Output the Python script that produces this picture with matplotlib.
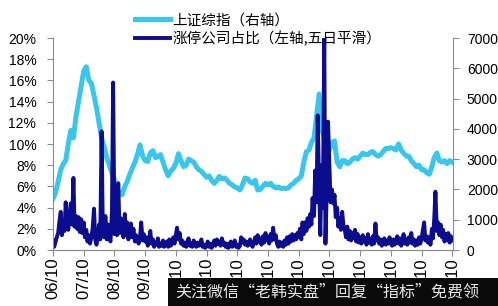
import numpy as np
import pandas as pd
import matplotlib
matplotlib.use("Agg")
import matplotlib.pyplot as plt
from matplotlib.patches import Rectangle

plt.rcParams['font.family'] = ['Liberation Sans', 'Noto Sans CJK SC', 'DejaVu Sans']

# 上证综指, monthly from 2006-10 (right axis)
sse = [1700, 1900, 2250, 2650, 2850, 2950, 3500, 3950, 3700, 4400, 4900, 5400,
       5900, 6050, 5600, 5500, 5100, 4700, 4200, 3700, 3400, 3050, 2800, 2550,
       2300, 2050, 1850, 1830, 2100, 2250, 2500, 2700, 2900, 3150, 3470, 3100,
       2950, 2920, 3200, 3280, 3050, 3080, 3150, 2900, 2650, 2450, 2600, 2700,
       2850, 3180, 2950, 2750, 2800, 3000, 2950, 2900, 2750, 2650, 2600, 2500,
       2400, 2450, 2300, 2200, 2300, 2430, 2350, 2380, 2300, 2200, 2150, 2080,
       2050, 1980, 2150, 2380, 2350, 2250, 2200, 2300, 1980, 2000, 2100, 2200,
       2150, 2200, 2100, 2050, 2080, 2030, 2040, 2030, 2050, 2150, 2200, 2300,
       2350, 2450, 2900, 3250, 3300, 3550, 3700, 4400, 5150, 4000, 3700, 3100,
       3300, 3550, 3600, 2900, 2750, 2950, 2950, 2850, 2900, 3000, 3050, 3000,
       3100, 3200, 3150, 3150, 3230, 3250, 3150, 3100, 3150, 3250, 3350, 3350,
       3380, 3350, 3300, 3500, 3300, 3200, 3100, 3100, 2950, 2850, 2750, 2800,
       2650, 2650, 2550, 2500, 2750, 3050, 3200, 2950, 2900, 2950, 2850, 2950,
       2900]

# 涨停公司占比 (%), semi-monthly from 2006-10 (left axis)
zt = [0.9, 0.3, 0.8, 1.2, 1.6, 2.6, 3.6, 1.4, 2.8, 1.8, 4.5, 2.2, 1.9, 3.4, 4.4, 2.4, 6.8, 2.2, 3.2, 2.0, 3.1, 1.7, 2.9, 1.6,
      2.6, 1.2, 1.9, 0.8, 1.4, 0.6, 1.2, 2.0, 3.9, 1.0, 0.5, 1.2, 2.4, 1.0, 11.2, 2.1, 1.2, 3.2, 1.0, 2.4, 1.1, 0.8, 3.6, 15.8,
      1.5, 2.8, 1.4, 6.3, 1.6, 3.0, 2.0, 1.2, 3.4, 1.4, 2.6, 1.0, 1.8, 2.5, 1.2, 2.0, 0.8, 1.4, 1.0, 0.6, 1.2, 2.6, 0.9, 1.5,
      0.8, 1.2, 0.4, 0.9, 1.8, 0.6, 1.0, 0.3, 0.7, 0.5, 1.1, 0.3, 0.6, 0.4, 0.9, 0.3, 0.5, 0.8, 0.3, 1.0, 0.4, 0.7, 1.2, 0.6,
      1.4, 2.1, 1.0, 1.6, 0.6, 0.9, 0.4, 0.7, 0.3, 0.8, 1.1, 0.4, 0.6, 0.3, 0.9, 0.5, 0.3, 0.7, 0.4, 0.6, 1.0, 0.3, 0.5, 0.2,
      0.4, 0.8, 0.3, 0.6, 0.2, 0.5, 0.9, 0.4, 1.0, 0.6, 0.8, 0.4, 1.1, 0.5, 0.7, 0.3, 0.6, 0.2, 0.4, 0.8, 0.3, 0.5, 0.9, 0.3,
      0.5, 0.2, 0.4, 1.2, 0.7, 1.0, 0.5, 0.8, 0.4, 0.6, 1.0, 0.5, 0.3, 0.7, 1.2, 0.6, 1.4, 0.8, 1.1, 0.5, 1.3, 0.7, 1.6, 0.9,
      1.2, 0.6, 1.5, 0.9, 2.1, 1.0, 1.4, 0.6, 0.3, 0.8, 0.4, 0.7, 0.3, 0.9, 0.5, 1.2, 0.6, 1.3, 0.8, 1.5, 0.9, 1.4, 1.0, 1.6,
      1.2, 2.0, 1.0, 2.6, 1.5, 2.6, 1.8, 3.0, 2.2, 3.4, 2.4, 4.9, 3.2, 7.5, 4.5, 12.7, 6.0, 1.4, 8.0, 4.0, 20.0, 0.6, 6.0, 12.1,
      8.0, 4.5, 5.7, 4.4, 5.2, 3.1, 4.0, 2.2, 3.0, 1.9, 3.6, 2.4, 1.9, 1.2, 2.2, 1.0, 1.8, 0.9, 1.6, 1.1, 1.9, 0.8, 1.5, 0.7,
      1.2, 0.6, 1.4, 0.8, 1.1, 0.5, 1.5, 0.7, 1.0, 0.5, 1.3, 0.6, 2.5, 0.9, 1.2, 0.6, 1.0, 0.4, 0.8, 1.1, 0.5, 0.9, 0.6, 1.2,
      0.8, 0.4, 1.0, 0.5, 0.9, 1.3, 0.6, 1.1, 0.4, 0.8, 1.5, 0.6, 1.0, 0.5, 1.2, 0.7, 1.6, 0.6, 1.0, 0.4, 0.9, 0.5, 1.2, 0.6,
      1.0, 1.8, 2.6, 0.9, 1.3, 0.7, 1.2, 0.5, 2.0, 1.1, 3.0, 5.5, 1.8, 2.6, 1.4, 2.4, 1.2, 1.9, 0.8, 1.5, 0.9, 1.6, 0.7, 1.3,
      0.9]

tick_years = list(range(2006, 2020))
tick_labels = ['%02d/10' % (y % 100) for y in tick_years]
label_sse = '上证综指（右轴）'
label_zt = '涨停公司占比（左轴,五日平滑）'
watermark = '关注微信“老韩实盘”回复“指标”免费领'

light = '#38C6EC'
dark = '#0C0C8E'
grey = '#8C8C8C'

d_sse = pd.date_range('2006-10-01', periods=len(sse), freq='MS')
d_zt = pd.date_range('2006-10-01', periods=len(zt), freq='SMS')

fig = plt.figure(figsize=(4.98, 3.06), dpi=100)
ax = fig.add_axes([53/498, 56/306, 400/498, 212/306])
ax2 = ax.twinx()

l2, = ax2.plot(d_sse, sse, color=light, lw=3.6, solid_joinstyle='round')
l1, = ax.plot(d_zt, zt, color=dark, lw=2.8, solid_joinstyle='round')
ax.set_zorder(ax2.get_zorder() + 1)
ax.patch.set_visible(False)

ax.set_ylim(0, 20)
ax.set_yticks(np.arange(0, 21, 2))
ax.set_yticklabels(['%d%%' % v for v in range(0, 21, 2)])
ax2.set_ylim(0, 7000)
ax2.set_yticks(np.arange(0, 7001, 1000))

ax.set_xlim(pd.Timestamp('2006-10-01'), pd.Timestamp('2019-10-10'))
ax.set_xticks([pd.Timestamp('%d-10-01' % y) for y in tick_years])
ax.set_xticklabels(tick_labels, rotation=90)

for a in (ax, ax2):
    for s in a.spines.values():
        s.set_color(grey)
    a.spines['top'].set_visible(False)
    a.tick_params(colors=grey, labelcolor='black', length=4, width=0.8, labelsize=10)
ax.spines['right'].set_visible(False)
ax2.spines['left'].set_visible(False)
ax.tick_params(axis='y', pad=8)
ax.tick_params(axis='x', pad=1, labelsize=12)
ax2.tick_params(axis='y', pad=6)

fig.legend([l2, l1], [label_sse, label_zt], loc='upper left', bbox_to_anchor=(122/498, 1.0),
           frameon=False, handlelength=2.4, handletextpad=0.15, labelspacing=0.25,
           prop={'family': ['Noto Sans CJK SC'], 'size': 10.5})

fig.add_artist(Rectangle((168/498, 0), 330/498, 28/306, transform=fig.transFigure,
                         facecolor='#0a0a0a', edgecolor='none', zorder=10))
fig.text(175/498, 14/306, watermark, color='#e6e6e6', fontsize=11.5, va='center', ha='left',
         family=['Noto Sans CJK SC'], zorder=11)

fig.savefig('out.png', dpi=100)
